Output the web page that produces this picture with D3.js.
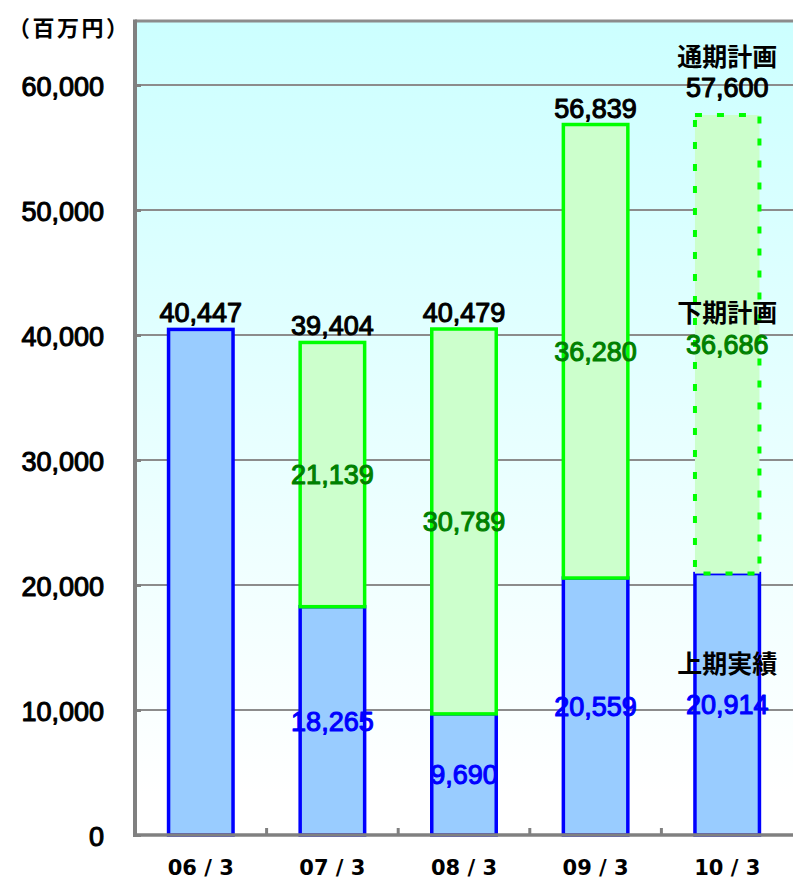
<!DOCTYPE html>
<html><head><meta charset="utf-8">
<script src="https://cdn.jsdelivr.net/npm/d3@7"></script>
<style>body{margin:0;background:#fff}svg{display:block}</style>
</head><body>
<script>
const categories = ["06/3", "07/3", "08/3", "09/3", "10/3"];
const firstHalf  = [40447, 18265, 9690, 20559, 20914];
const secondHalf = [0, 21139, 30789, 36280, 36686];
const totals     = [40447, 39404, 40479, 56839, 57600];
const yTicks     = [0, 10000, 20000, 30000, 40000, 50000, 60000];
const planIndex  = 4;
const unitLabel  = "（百万円）";
const planTotalLabel = "通期計画";
const planSecondLabel = "下期計画";
const actualFirstLabel = "上期実績";

const W = 793, H = 881;
const L = 135, R = 793, T = 20, B = 835;
const svg = d3.select("body").append("svg").attr("width", W).attr("height", H);
const fmt = d3.format(",");
const numFont = "'Liberation Sans', Arial, sans-serif";
const jpFont = "'Noto Sans CJK JP', sans-serif";

const defs = svg.append("defs");
const grad = defs.append("linearGradient").attr("id", "bg").attr("x1", 0).attr("y1", 0).attr("x2", 0).attr("y2", 1);
grad.append("stop").attr("offset", "0%").attr("stop-color", "#ccffff");
grad.append("stop").attr("offset", "95%").attr("stop-color", "#ffffff");

const x = d3.scaleBand().domain(categories).range([L, R]).paddingInner(0.51).paddingOuter(0.255);
const y = d3.scaleLinear().domain([0, 65200]).range([B, T]);

function numStyle(sel, color) {
  sel.attr("font-family", numFont).attr("font-size", 27).attr("font-weight", "normal")
    .attr("fill", color).attr("stroke", color).attr("stroke-width", 1.1).attr("stroke-linejoin", "round");
}

svg.append("rect").attr("x", L).attr("y", T).attr("width", R - L).attr("height", B - T).attr("fill", "url(#bg)");

// gridlines
svg.append("g").selectAll("line").data(yTicks.filter(d => d > 0)).join("line")
  .attr("x1", L).attr("x2", R).attr("y1", d => y(d)).attr("y2", d => y(d))
  .attr("stroke", "#8c8c8c").attr("stroke-width", 2);

// top border
svg.append("line").attr("x1", L).attr("x2", R).attr("y1", T + 1).attr("y2", T + 1).attr("stroke", "#8c8c8c").attr("stroke-width", 3);

// first half bars
svg.append("g").selectAll("rect").data(categories).join("rect")
  .attr("x", d => x(d)).attr("width", x.bandwidth())
  .attr("y", (d, i) => y(firstHalf[i])).attr("height", (d, i) => y(0) - y(firstHalf[i]))
  .attr("fill", "#99ccff").attr("stroke", "#0000ff").attr("stroke-width", 3.5);

// second half bars
svg.append("g").selectAll("rect").data(categories.filter((d, i) => secondHalf[i] > 0)).join("rect")
  .attr("x", d => x(d)).attr("width", x.bandwidth())
  .attr("y", d => { const i = categories.indexOf(d); return y(firstHalf[i] + secondHalf[i]); })
  .attr("height", d => { const i = categories.indexOf(d); return y(firstHalf[i]) - y(firstHalf[i] + secondHalf[i]); })
  .attr("fill", "#ccffcc").attr("stroke", "#00ff00").attr("stroke-width", d => categories.indexOf(d) === planIndex ? 4 : 3.5)
  .attr("stroke-dasharray", d => categories.indexOf(d) === planIndex ? "7,15" : null);

// axes
const yAxis = svg.append("g").attr("transform", `translate(${L},0)`)
  .call(d3.axisLeft(y).tickValues(yTicks).tickSize(-6).tickFormat(fmt).tickPadding(31));
yAxis.select(".domain").remove();
yAxis.selectAll(".tick line").attr("stroke", "#808080").attr("stroke-width", 3);
yAxis.selectAll(".tick text").call(numStyle, "#000").attr("dy", "0.38em");
svg.append("line").attr("x1", L).attr("x2", L).attr("y1", T - 0.5).attr("y2", B + 2).attr("stroke", "#808080").attr("stroke-width", 4);

const xAxis = svg.append("g").attr("transform", `translate(0,${B})`)
  .call(d3.axisBottom(x).tickSize(0).tickPadding(0).tickFormat(d => d.replace("/", " / ")));
xAxis.select(".domain").remove();
xAxis.selectAll(".tick text").attr("font-family", "'DejaVu Sans', sans-serif").attr("font-size", 21).attr("font-weight", "bold")
  .attr("fill", "#000").attr("y", 40).attr("dy", 0);
svg.append("line").attr("x1", L - 2).attr("x2", R).attr("y1", B).attr("y2", B).attr("stroke", "#808080").attr("stroke-width", 3.5);
// category boundary ticks
svg.append("g").selectAll("line").data(categories.slice(1)).join("line")
  .attr("x1", d => x(d) - x.step() * x.paddingInner() / 2).attr("x2", d => x(d) - x.step() * x.paddingInner() / 2)
  .attr("y1", B).attr("y2", B - 7).attr("stroke", "#808080").attr("stroke-width", 3);

// total labels
svg.append("g").selectAll("text").data(categories).join("text")
  .attr("x", d => x(d) + x.bandwidth() / 2)
  .attr("y", (d, i) => y(totals[i]) - (i === planIndex ? 18 : 7))
  .attr("text-anchor", "middle").call(numStyle, "#000").text((d, i) => fmt(totals[i]));

// second half labels
svg.append("g").selectAll("text").data(categories.filter((d, i) => secondHalf[i] > 0)).join("text")
  .attr("x", d => x(d) + x.bandwidth() / 2)
  .attr("y", d => { const i = categories.indexOf(d); return (y(firstHalf[i]) + y(firstHalf[i] + secondHalf[i])) / 2; })
  .attr("dy", "0.36em")
  .attr("text-anchor", "middle").call(numStyle, "#008000").text(d => fmt(secondHalf[categories.indexOf(d)]));

// first half labels
svg.append("g").selectAll("text").data(categories.filter((d, i) => secondHalf[i] > 0)).join("text")
  .attr("x", d => x(d) + x.bandwidth() / 2)
  .attr("y", d => { const i = categories.indexOf(d); return (y(0) + y(firstHalf[i])) / 2; })
  .attr("dy", "0.36em")
  .attr("text-anchor", "middle").call(numStyle, "#0000ff").text(d => fmt(firstHalf[categories.indexOf(d)]));

// Japanese labels
const pc = x(categories[planIndex]) + x.bandwidth() / 2;
const jp = (txt, yy) => svg.append("text").attr("x", pc).attr("y", yy).attr("text-anchor", "middle")
  .attr("font-family", jpFont).attr("font-size", 25).attr("font-weight", "bold").attr("fill", "#000").text(txt);
jp(planTotalLabel, 66);
jp(planSecondLabel, 322);
jp(actualFirstLabel, 673);

svg.append("text").attr("x", 8).attr("y", 36).attr("font-family", jpFont).attr("font-size", 22).attr("font-weight", "bold")
  .attr("fill", "#000").attr("textLength", 120).attr("lengthAdjust", "spacing").text(unitLabel);
</script>
</body></html>
